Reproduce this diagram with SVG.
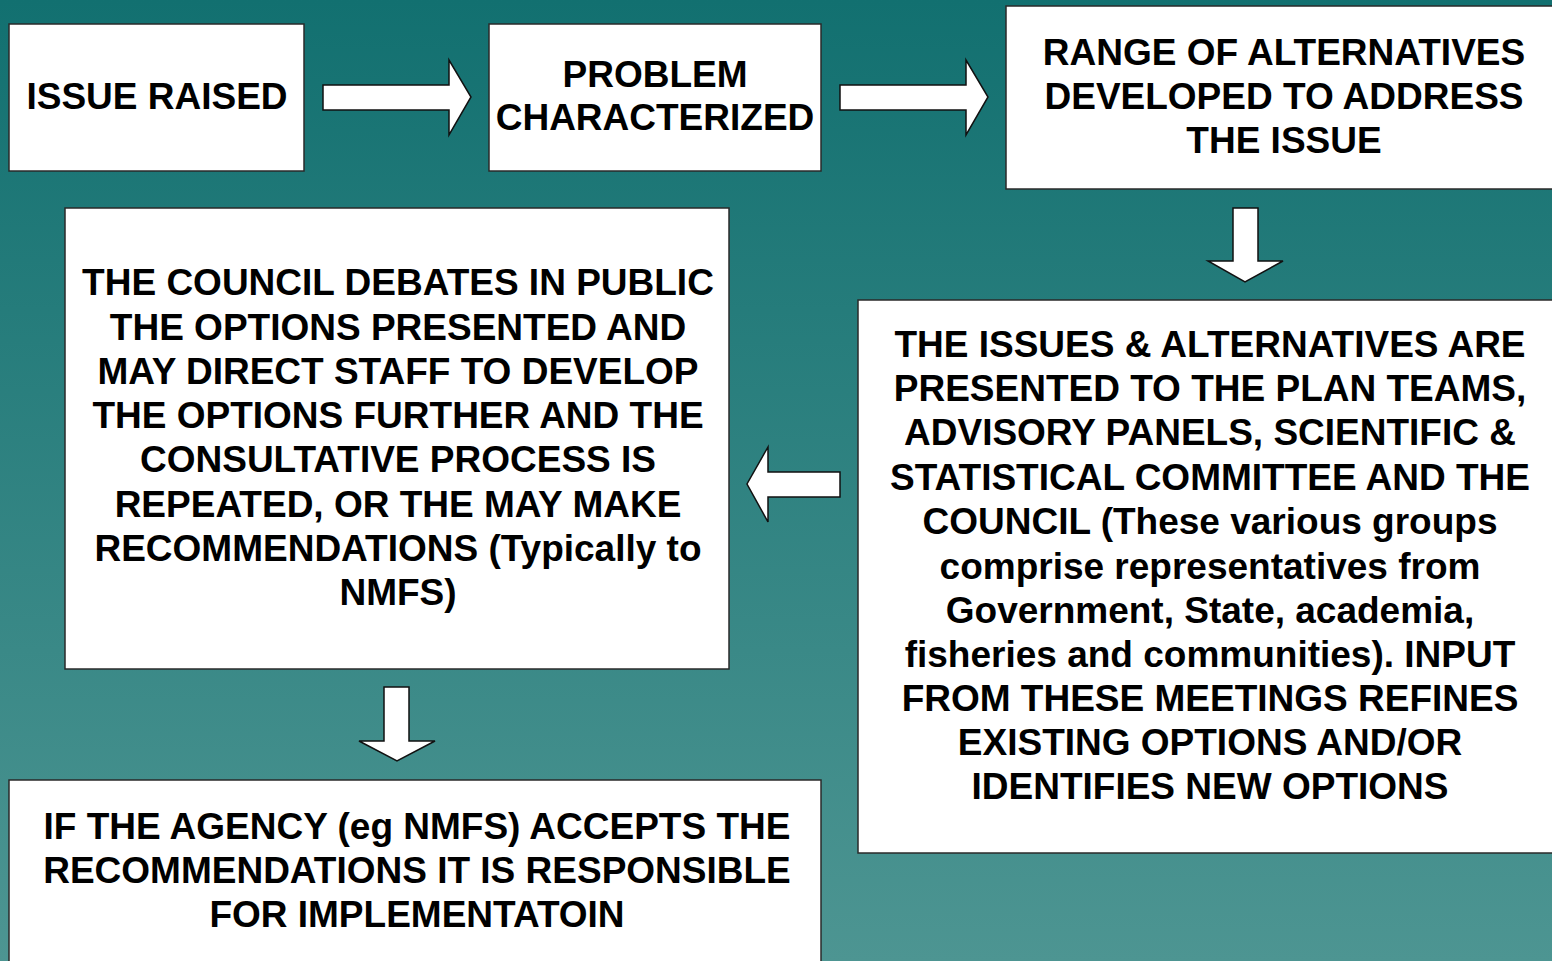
<svg xmlns="http://www.w3.org/2000/svg" width="1552" height="961" viewBox="0 0 1552 961">
<defs>
<linearGradient id="bg" x1="0" y1="0" x2="0" y2="1">
<stop offset="0" stop-color="#127070"/>
<stop offset="1" stop-color="#4d9592"/>
</linearGradient>
<style>
.box{fill:#ffffff;stroke:#2a2a2a;stroke-width:1.5}
.arr{fill:#ffffff;stroke:#111111;stroke-width:1.5;stroke-linejoin:miter}
.t{font-family:"Liberation Sans",Arial,sans-serif;font-weight:bold;font-size:37px;fill:#000000;text-anchor:middle}
</style>
</defs>
<rect x="0" y="0" width="1552" height="961" fill="url(#bg)"/>
<g id="connectors">
<polygon class="arr" points="323,85 449,85 449,60 471,97 449,135 449,110 323,110"/>
<polygon class="arr" points="840,85 966,85 966,60 988,97 966,135 966,110 840,110"/>
<polygon class="arr" points="1233,208 1258,208 1258,261 1283,261 1245,282 1208,261 1233,261"/>
<polygon class="arr" points="840,472 768,472 768,447 747,484 768,522 768,497 840,497"/>
<polygon class="arr" points="384,687 409,687 409,741 435,741 397,761 359,741 384,741"/>
</g>
<g id="n1">
<rect class="box" x="9" y="24" width="295" height="147"/>
<text class="t" x="157" y="109">ISSUE RAISED</text>
</g>
<g id="n2">
<rect class="box" x="489" y="24" width="332" height="147"/>
<text class="t" x="655" y="87">PROBLEM</text>
<text class="t" x="655" y="130">CHARACTERIZED</text>
</g>
<g id="n3">
<rect class="box" x="1006" y="6" width="560" height="183"/>
<text class="t" x="1284" y="65">RANGE OF ALTERNATIVES</text>
<text class="t" x="1284" y="109">DEVELOPED TO ADDRESS</text>
<text class="t" x="1284" y="153">THE ISSUE</text>
</g>
<g id="n4">
<rect class="box" x="65" y="208" width="664" height="461"/>
<text class="t" x="398" y="295">THE COUNCIL DEBATES IN PUBLIC</text>
<text class="t" x="398" y="340">THE OPTIONS PRESENTED AND</text>
<text class="t" x="398" y="384">MAY DIRECT STAFF TO DEVELOP</text>
<text class="t" x="398" y="428">THE OPTIONS FURTHER AND THE</text>
<text class="t" x="398" y="472">CONSULTATIVE PROCESS IS</text>
<text class="t" x="398" y="517">REPEATED, OR THE MAY MAKE</text>
<text class="t" x="398" y="561">RECOMMENDATIONS (Typically to</text>
<text class="t" x="398" y="605">NMFS)</text>
</g>
<g id="n5">
<rect class="box" x="858" y="300" width="710" height="553"/>
<text class="t" x="1210" y="357">THE ISSUES &amp; ALTERNATIVES ARE</text>
<text class="t" x="1210" y="401">PRESENTED TO THE PLAN TEAMS,</text>
<text class="t" x="1210" y="445">ADVISORY PANELS, SCIENTIFIC &amp;</text>
<text class="t" x="1210" y="490">STATISTICAL COMMITTEE AND THE</text>
<text class="t" x="1210" y="534">COUNCIL (These various groups</text>
<text class="t" x="1210" y="579">comprise representatives from</text>
<text class="t" x="1210" y="623">Government, State, academia,</text>
<text class="t" x="1210" y="667">fisheries and communities). INPUT</text>
<text class="t" x="1210" y="711">FROM THESE MEETINGS REFINES</text>
<text class="t" x="1210" y="755">EXISTING OPTIONS AND/OR</text>
<text class="t" x="1210" y="799">IDENTIFIES NEW OPTIONS</text>
</g>
<g id="n6">
<rect class="box" x="9" y="780" width="812" height="200"/>
<text class="t" x="417" y="839">IF THE AGENCY (eg NMFS) ACCEPTS THE</text>
<text class="t" x="417" y="883">RECOMMENDATIONS IT IS RESPONSIBLE</text>
<text class="t" x="417" y="927">FOR IMPLEMENTATOIN</text>
</g>
</svg>
